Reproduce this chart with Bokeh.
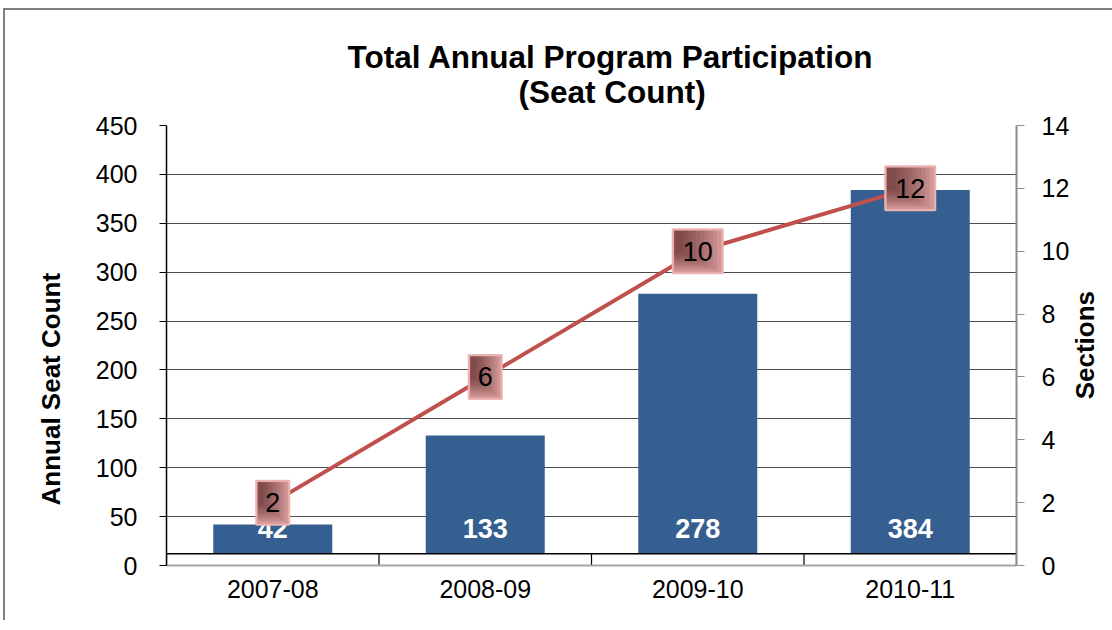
import math
from bokeh.plotting import figure
from bokeh.models import Range1d, LinearAxis, FactorRange, Title, FixedTicker
from bokeh.core.properties import value
from bokeh.embed import file_html
from bokeh.resources import INLINE

# ---- data ----
years = ["2007-08", "2008-09", "2009-10", "2010-11"]
seats = [42, 133, 278, 384]
sections = [2, 6, 10, 12]
seat_ticks = [0, 50, 100, 150, 200, 250, 300, 350, 400, 450]
section_ticks = [0, 2, 4, 6, 8, 10, 12, 14]

# ---- style ----
FONT = "Liberation Sans"
FRAME_W, FRAME_H = 850, 440
SEAT_MAX, SEC_MAX = 450, 14
FLOOR = 12
BAR_COLOR = "#365F91"
LINE_COLOR = "#C0504D"

p = figure(
    x_range=FactorRange(*years),
    y_range=Range1d(0, SEAT_MAX),
    frame_width=FRAME_W, frame_height=FRAME_H,
    min_border_left=161, min_border_right=92, min_border_top=115, min_border_bottom=55,
    output_backend="svg", toolbar_location=None,
    background_fill_color="white", border_fill_color="white",
)
p.outline_line_color = None
p.extra_y_ranges = {"sec": Range1d(0, SEC_MAX)}
p.styles = {"border-left": "2px solid #7F7F7F", "border-top": "2px solid #7F7F7F",
            "margin-left": "3px", "margin-top": "8px"}

# titles (p.title is the outer one; added titles sit closer to the frame)
p.title.text = "Total Annual Program Participation"
p.title.align = "left"
p.title.offset = 181
p.title.text_font = FONT
p.title.text_font_size = "31.5px"
p.title.text_font_style = "bold"
p.title.text_color = "black"
p.title.standoff = -38
t2 = Title(text="(Seat Count)", align="left", offset=352,
           text_font=FONT, text_font_size="31.5px", text_font_style="bold",
           text_color="black", standoff=32)
p.add_layout(t2, "above")

# left axis title (placed as a side title so it can sit low like the original)
lt = Title(text="Annual Seat Count", align="left", offset=60, text_font=FONT,
           text_font_size="26px", text_font_style="bold", text_color="black",
           standoff=52, vertical_align="middle")
p.add_layout(lt, "left")

# grid
p.xgrid.grid_line_color = None
p.ygrid.ticker = FixedTicker(ticks=seat_ticks)
p.ygrid.grid_line_color = "#4D4D4D"
p.ygrid.grid_line_width = 1

# left axis
ya = p.yaxis[0]
ya.ticker = FixedTicker(ticks=seat_ticks)
ya.major_label_text_font = FONT
ya.major_label_text_font_size = "25px"
ya.major_label_text_color = "black"
ya.major_label_standoff = 22
ya.axis_line_color = "black"
ya.axis_line_width = 1.5
ya.major_tick_line_color = "black"
ya.major_tick_out = 7
ya.major_tick_in = 0
ya.minor_tick_line_color = None

# right axis (label reads bottom-to-top, lifted from the axis start)
ra = LinearAxis(y_range_name="sec", ticker=FixedTicker(ticks=section_ticks))
ra.axis_label = "\u00a0" * 23 + "Sections"
ra.axis_label_orientation = math.pi / 2
ra.axis_label_align = "start"
ra.axis_label_text_font = FONT
ra.axis_label_text_font_size = "26px"
ra.axis_label_text_font_style = "bold"
ra.axis_label_text_color = "black"
ra.axis_label_standoff = 13
ra.major_label_text_font = FONT
ra.major_label_text_font_size = "25px"
ra.major_label_text_color = "black"
ra.major_label_standoff = 17
ra.axis_line_color = "#8C8C8C"
ra.axis_line_width = 2
ra.major_tick_line_color = "#8C8C8C"
ra.major_tick_out = 8
ra.major_tick_in = 0
ra.minor_tick_line_color = None
p.add_layout(ra, "right")

# bottom axis
xa = p.xaxis[0]
xa.major_label_text_font = FONT
xa.major_label_text_font_size = "25px"
xa.major_label_text_color = "black"
xa.major_label_standoff = 8
xa.major_tick_line_color = None
xa.axis_line_color = "#A6A6A6"
xa.axis_line_width = 2

n = len(years)

# bars
p.vbar(x=years, top=seats, width=0.56, fill_color=BAR_COLOR, line_color=None)
p.text(x=years, y=[0 for _ in seats], text=[str(s) for s in seats],
       text_color="white", text_font=value(FONT), text_font_size="27px",
       text_font_style="bold", text_align="center", text_baseline="middle", y_offset=-37)

# floor band
p.quad(left=[0], right=[n], bottom=[0], top=[FLOOR], fill_color="white", line_color=None)
p.segment(x0=[0], y0=[FLOOR], x1=[n], y1=[FLOOR], line_color="black", line_width=1.5)
bx = list(range(n + 1))
p.segment(x0=bx, y0=[0] * len(bx), x1=bx, y1=[FLOOR] * len(bx), line_color="black", line_width=1.2)

# line
p.line(x=years, y=sections, y_range_name="sec", line_color=LINE_COLOR, line_width=4)

# label boxes with gradient
xu = n / FRAME_W
yu = SEC_MAX / FRAME_H
labels = [str(s) for s in sections]
xs = [i + 0.5 for i in range(n)]
wpx = [16 + 17 * len(l) for l in labels]
hpx = 44
wx = [w * xu for w in wpx]
hy = hpx * yu
p.rect(x=xs, y=sections, width=wx, height=hy, y_range_name="sec",
       fill_color="#DEA2A1", line_color="#EBB3B2", line_width=2)
steps = 10
for k in range(steps):
    fw = 1 - k * 0.09
    fh = 1 - k * 0.05
    ow = [(w - 3) * fw * xu for w in wpx]
    oh = (hpx - 3) * fh * yu
    cx = [x - (w - 3) * xu / 2 + o / 2 for x, w, o in zip(xs, wpx, ow)]
    cy = [y + (hpx - 3) * yu / 2 - oh / 2 for y in sections]
    p.rect(x=cx, y=cy, width=ow, height=oh, y_range_name="sec",
           fill_color="#3A0C0C", fill_alpha=0.08, line_color=None)
p.text(x=years, y=sections, text=labels, y_range_name="sec",
       text_color="black", text_font=value(FONT), text_font_size="27px",
       text_align="center", text_baseline="middle")

open("out.html", "w").write(file_html(p, INLINE))
